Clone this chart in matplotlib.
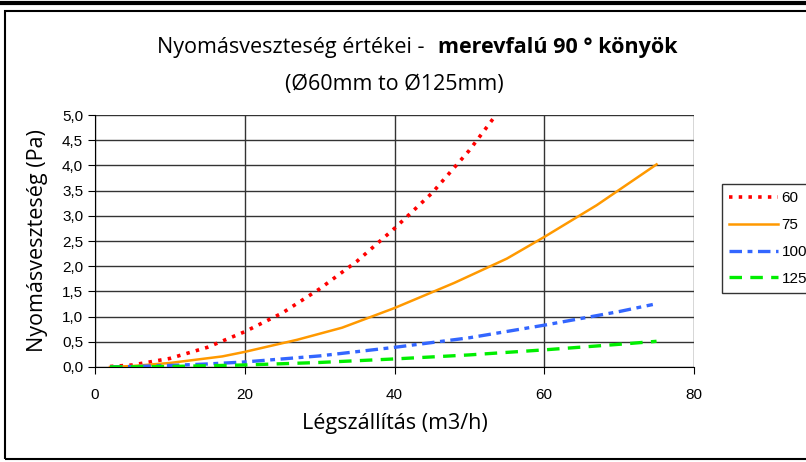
import matplotlib
matplotlib.use('Agg')
import matplotlib.pyplot as plt
from matplotlib.lines import Line2D
from matplotlib.patches import Rectangle

plt.rcParams['lines.scale_dashes'] = False

x60 = [2, 5, 10, 15, 20, 25, 30, 35, 40, 45, 50, 53.8]
y60 = [0.01, 0.04, 0.17, 0.39, 0.70, 1.07, 1.55, 2.10, 2.75, 3.45, 4.30, 5.05]
x75 = [2, 5, 10, 17, 20, 27, 33, 40, 48, 55, 60, 67, 75]
y75 = [0.0, 0.02, 0.08, 0.21, 0.30, 0.54, 0.78, 1.17, 1.67, 2.15, 2.58, 3.21, 4.02]
x100 = [2, 5, 10, 15, 20, 30, 40, 50, 60, 70, 74.5]
y100 = [0.0, 0.01, 0.03, 0.06, 0.10, 0.22, 0.39, 0.58, 0.83, 1.10, 1.24]
x125 = [2, 10, 20, 30, 40, 50, 60, 70, 75]
y125 = [0.0, 0.01, 0.04, 0.09, 0.16, 0.24, 0.34, 0.45, 0.51]
labels = ['60', '75', '100', '125']
yticks = [0.0, 0.5, 1.0, 1.5, 2.0, 2.5, 3.0, 3.5, 4.0, 4.5, 5.0]
xticks = [0, 20, 40, 60, 80]

W, H = 806, 462
fig = plt.figure(figsize=(W / 100, H / 100), dpi=100)
ax = fig.add_axes([95 / W, 1 - 367 / H, (694 - 95) / W, (367 - 115) / H])

styles = [
    dict(color='#ff0000', lw=2.6, dashes=(2.5, 4.5)),
    dict(color='#ff9900', lw=1.8, linestyle='-'),
    dict(color='#3366ff', lw=2.4, dashes=(9, 4, 3.5, 4)),
    dict(color='#00ee00', lw=2.4, dashes=(9, 6)),
]
data = [(x60, y60), (x75, y75), (x100, y100), (x125, y125)]
handles = []
for (xs, ys), st, lab in zip(data, styles, labels):
    l, = ax.plot(xs, ys, label=lab, **st)
    handles.append(l)

ax.set_xlim(0, 80)
ax.set_ylim(0, 5)
ax.set_xticks(xticks)
ax.set_yticks(yticks)
ax.set_yticklabels([f'{v:.1f}'.replace('.', ',') for v in yticks])
ax.grid(True, color='#333333', lw=1.0)
for s in ['top', 'right']:
    ax.spines[s].set_visible(False)
ax.tick_params(direction='out', length=5, labelsize=11, colors='black')
ax.tick_params(axis='x', pad=10)
for t in ax.get_xticklabels() + ax.get_yticklabels():
    t.set_fontfamily('Liberation Sans')

ax.set_xlabel('Légszállítás (m3/h)', fontsize=15.5, family='Open Sans', labelpad=8)
ax.set_ylabel('Nyomásveszteség (Pa)', fontsize=15.5, family='Open Sans', labelpad=10)

fig.text(430 / W, 1 - 47 / H, 'Nyomásveszteség értékei - ', ha='right', va='center',
         fontsize=15.5, family='Open Sans')
fig.text(438 / W, 1 - 47 / H, 'merevfalú 90 ° könyök', ha='left', va='center',
         fontsize=15.5, family='Open Sans', fontweight='bold')
fig.text(394 / W, 1 - 85 / H, '(Ø60mm to Ø125mm)', ha='center', va='center',
         fontsize=15.5, family='Open Sans')

leg = fig.legend(handles=handles, labels=labels, loc='upper left',
                 bbox_to_anchor=(722 / W, 1 - 184 / H), frameon=True, fancybox=False,
                 edgecolor='black', fontsize=11, handlelength=3.2, borderpad=0.45,
                 labelspacing=0.85, handletextpad=0.25, borderaxespad=0)
leg.get_frame().set_linewidth(1.0)
for t in leg.get_texts():
    t.set_fontfamily('Liberation Sans')

# outer frame and top rule
fig.add_artist(Line2D([0, 1], [1 - 2.5 / H] * 2, color='black', lw=3, transform=fig.transFigure))
fig.add_artist(Rectangle((4.5 / W, 1 - 458.5 / H), 1.2, (458.5 - 10.5) / H, fill=False,
                         edgecolor='black', lw=1.5, transform=fig.transFigure))

fig.savefig('out.png', dpi=100)
